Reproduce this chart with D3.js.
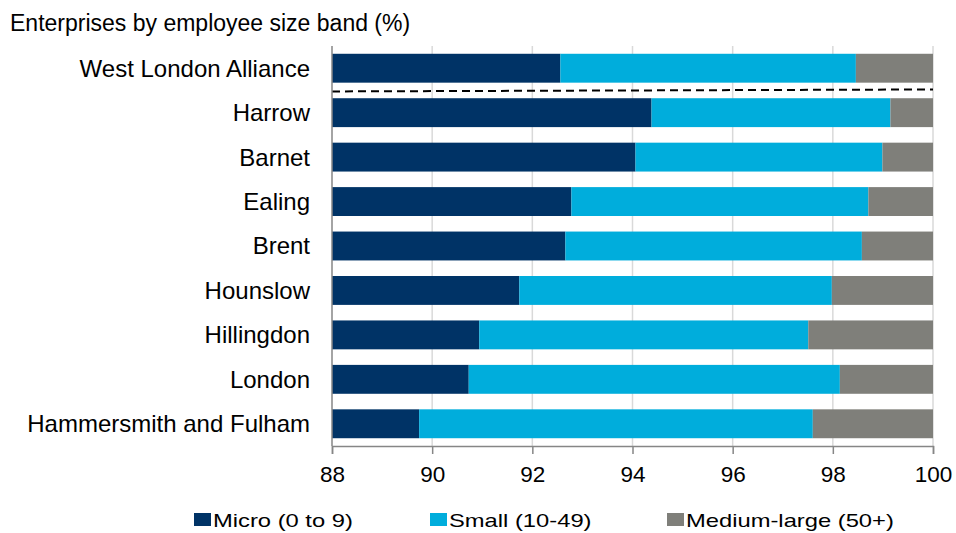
<!DOCTYPE html>
<html>
<head>
<meta charset="utf-8">
<script src="https://cdn.jsdelivr.net/npm/d3@7"></script>
<style>
  body { margin: 0; background: #fff; }
  svg { display: block; font-family: Arial, "Liberation Sans", sans-serif; }
</style>
</head>
<body>
<div id="chart"></div>
<script>
var areas = ['West London Alliance', 'Harrow', 'Barnet', 'Ealing', 'Brent',
  'Hounslow', 'Hillingdon', 'London', 'Hammersmith and Fulham'];
// share of enterprises, % (micro + small + medium-large = 100)
var micro = [92.56, 94.38, 94.06, 92.78, 92.66, 91.74, 90.94, 90.73, 89.74];
var small = [5.90, 4.77, 4.93, 5.93, 5.92, 6.24, 6.57, 7.41, 7.86];
var medium = [1.54, 0.85, 1.01, 1.29, 1.42, 2.02, 2.49, 1.86, 2.40];
var seriesNames = ['Micro (0 to 9)', 'Small (10-49)', 'Medium-large (50+)'];
var seriesColors = ['#003366', '#00addc', '#7f7f7a'];
var xTicks = [88, 90, 92, 94, 96, 98, 100];

var width = 956, height = 533;
var margin = { top: 46, left: 332, right: 23, bottom: 87 };

var svg = d3.select('#chart').append('svg')
  .attr('width', width)
  .attr('height', height);

var x = d3.scaleLinear()
  .domain([88, 100])
  .range([margin.left, width - margin.right]);

var y = d3.scaleBand()
  .domain(areas)
  .range([margin.top, height - margin.bottom])
  .paddingInner(0.35)
  .paddingOuter(0.175);

var rows = areas.map(function(a, i) {
  return { area: a, micro: micro[i], small: small[i], medium: medium[i] };
});

var stack = d3.stack().keys(['micro', 'small', 'medium']);
var layers = stack(rows);

// gridlines
svg.append('g')
  .selectAll('line')
  .data(xTicks.slice(1))
  .enter().append('line')
    .attr('x1', function(d) { return x(d); })
    .attr('x2', function(d) { return x(d); })
    .attr('y1', margin.top)
    .attr('y2', height - margin.bottom)
    .style('stroke', '#d9d9d9')
    .style('stroke-width', 1.5);

// bars, clipped at 88 (axis start)
svg.append('g')
  .selectAll('g')
  .data(layers)
  .enter().append('g')
    .style('fill', function(d, i) { return seriesColors[i]; })
  .selectAll('rect')
  .data(function(d) { return d; })
  .enter().append('rect')
    .attr('x', function(d) { return x(Math.max(88, d[0])); })
    .attr('width', function(d) { return x(Math.min(100, d[1])) - x(Math.max(88, d[0])); })
    .attr('y', function(d) { return y(d.data.area); })
    .attr('height', y.bandwidth());

// dashed separator under the alliance total
var sepY = (y(areas[0]) + y.bandwidth() + y(areas[1])) / 2;
svg.append('line')
  .attr('x1', x(88))
  .attr('x2', x(100))
  .attr('y1', sepY + 1)
  .attr('y2', sepY - 1)
  .style('stroke', '#000')
  .style('stroke-width', 2)
  .style('stroke-dasharray', '8,5');

// left axis line
svg.append('line')
  .attr('x1', x(88))
  .attr('x2', x(88))
  .attr('y1', margin.top)
  .attr('y2', height - margin.bottom)
  .style('stroke', '#868686')
  .style('stroke-width', 1.5);

// category labels
svg.append('g')
  .selectAll('text')
  .data(areas)
  .enter().append('text')
    .attr('x', margin.left - 22)
    .attr('y', function(d) { return y(d) + y.bandwidth() / 2; })
    .attr('dy', '0.35em')
    .attr('text-anchor', 'end')
    .style('font-size', '24px')
    .style('fill', '#000')
    .text(function(d) { return d; });

// bottom axis
var xAxis = d3.axisBottom(x)
  .tickValues(xTicks)
  .tickSize(8)
  .tickPadding(12)
  .tickFormat(d3.format('d'));

var axisG = svg.append('g')
  .attr('transform', 'translate(0,' + (height - margin.bottom) + ')')
  .call(xAxis);

axisG.select('.domain').style('stroke', '#868686').style('stroke-width', 1.5);
axisG.selectAll('.tick line').style('stroke', '#868686').style('stroke-width', 1.5);
axisG.selectAll('.tick text')
  .style('font-size', '22.5px')
  .style('font-family', 'Arial, "Liberation Sans", sans-serif')
  .style('fill', '#000');

// title
svg.append('text')
  .attr('x', 10)
  .attr('y', 31)
  .style('font-size', '23px')
  .style('fill', '#000')
  .text('Enterprises by employee size band (%)');

// legend (text in the source is drawn a little wide)
var legendX = [194, 430, 667];
var legend = svg.append('g')
  .selectAll('g')
  .data(seriesNames)
  .enter().append('g')
    .attr('transform', function(d, i) { return 'translate(' + legendX[i] + ',' + 513 + ')'; });

legend.append('rect')
  .attr('width', 17)
  .attr('height', 13)
  .style('fill', function(d, i) { return seriesColors[i]; });

legend.append('text')
  .attr('transform', 'translate(19,14) scale(1.25,1)')
  .style('font-size', '19px')
  .style('fill', '#000')
  .text(function(d) { return d; });
</script>
</body>
</html>
